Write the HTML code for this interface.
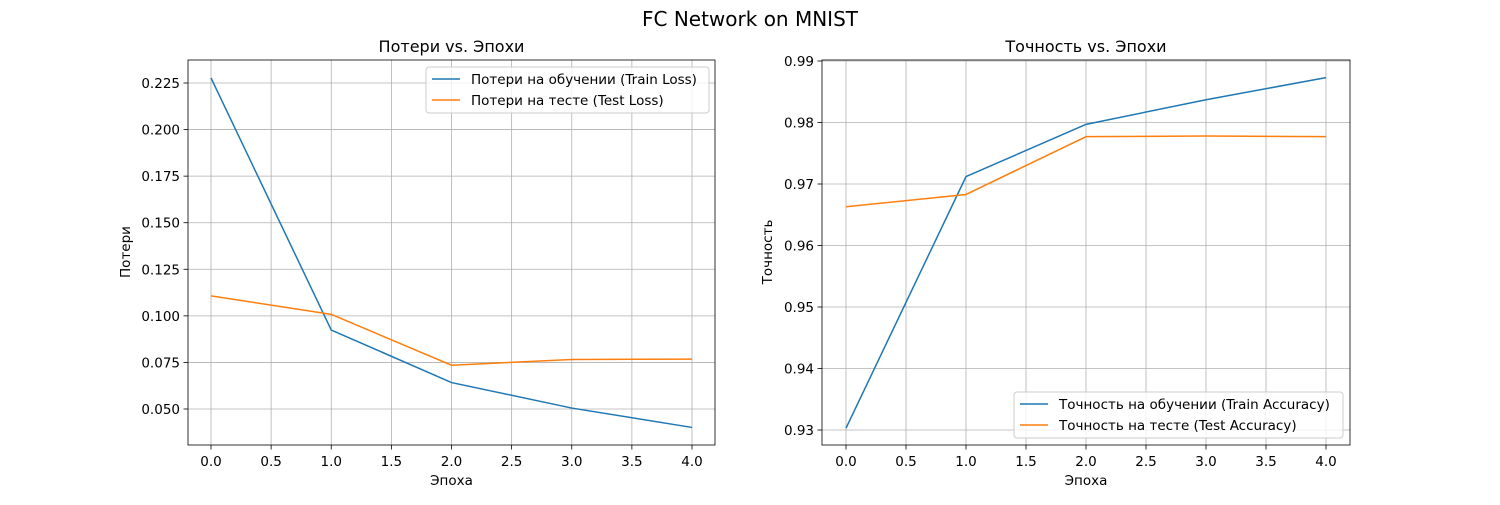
<!DOCTYPE html>
<html><head><meta charset="utf-8"><style>
body{margin:0;background:#fff;font-family:"Liberation Sans","DejaVu Sans",sans-serif}
svg text{font-family:"DejaVu Sans","Liberation Sans",sans-serif;fill:#000}
</style></head><body>
<svg id="c" width="1500" height="500" xmlns="http://www.w3.org/2000/svg"></svg>
<script>
const epochs=[0,1,2,3,4];
const trainLoss=[0.2277,0.0924,0.0642,0.0505,0.0401];
const testLoss=[0.1107,0.1008,0.0735,0.0766,0.0768];
const trainAcc=[0.9303,0.9712,0.9797,0.9837,0.9873];
const testAcc=[0.9663,0.9683,0.9777,0.9778,0.9777];
const xTicks=[0,0.5,1,1.5,2,2.5,3,3.5,4];
const lossTicks=[0.05,0.075,0.1,0.125,0.15,0.175,0.2,0.225];
const accTicks=[0.93,0.94,0.95,0.96,0.97,0.98,0.99];
const NS="http://www.w3.org/2000/svg";
const svg=document.getElementById('c');
function el(t,a,p){const e=document.createElementNS(NS,t);for(const k in a)e.setAttribute(k,a[k]);(p||svg).appendChild(e);return e;}
function txt(s,a,p){const e=el('text',a,p);e.textContent=s;return e;}
const title=txt('FC Network on MNIST',{x:750,y:26,'font-size':20,'text-anchor':'middle'});


function panel(o){
 const g=el('g',{});
 
 
 const X=v=>o.x0+(v-0)*(o.x4-o.x0)/4;
 const Y=v=>o.yA+(v-o.vA)*(o.yB-o.yA)/(o.vB-o.vA);
 xTicks.forEach(t=>{
  el('line',{x1:X(t),x2:X(t),y1:60,y2:445,stroke:'#b0b0b0','stroke-width':0.8},g);
  el('line',{x1:X(t),x2:X(t),y1:445,y2:449.5,stroke:'#000','stroke-width':0.8},g);
  const l=txt(t.toFixed(1),{x:X(t),y:466,'font-size':13.5,'text-anchor':'middle'},g);
  
  
 });
 o.ticks.forEach(t=>{
  el('line',{x1:o.L,x2:o.R,y1:Y(t),y2:Y(t),stroke:'#b0b0b0','stroke-width':0.8},g);
  el('line',{x1:o.L-4.5,x2:o.L,y1:Y(t),y2:Y(t),stroke:'#000','stroke-width':0.8},g);
  const l=txt(t.toFixed(o.dec),{x:o.L-8,y:Y(t)+5,'font-size':13.5,'text-anchor':'end'},g);
  
  
 });
 const fr=el('rect',{x:o.L,y:60,width:o.R-o.L,height:385,fill:'none',stroke:'#000','stroke-width':0.8},g);
 
 
 o.series.forEach((s,i)=>{
  const p=el('polyline',{points:epochs.map((e,j)=>X(e)+','+Y(s[j])).join(' '),fill:'none',stroke:i?'#ff7f0e':'#1f77b4','stroke-width':1.5},g);
  
  
 });
 const t=txt(o.title,{x:(o.L+o.R)/2,y:52,'font-size':16,'text-anchor':'middle'},g);
 
 
 const xl=txt('Эпоха',{x:(o.L+o.R)/2,y:485,'font-size':13.5,'text-anchor':'middle'},g);
 
 
 const yl=txt(o.ylabel,{x:0,y:0,'font-size':13.5,'text-anchor':'middle',transform:`translate(${o.ylx},252) rotate(-90)`},g);
 
 
 const lg=el('g',{},g);
 
 
 el('rect',{x:o.lx,y:o.ly,width:o.lw,height:46,rx:3,fill:'#fff','fill-opacity':0.8,stroke:'#ccc'},lg);
 o.labels.forEach((s,i)=>{
  el('line',{x1:o.lx+6,x2:o.lx+34,y1:o.ly+12+i*21,y2:o.ly+12+i*21,stroke:i?'#ff7f0e':'#1f77b4','stroke-width':1.5},lg);
  const e=txt(s,{x:o.lx+45,y:o.ly+17+i*21,'font-size':13.5},lg);
  
  
 });
}
panel({name:'loss-panel',L:188,R:715,x0:211,x4:692,yA:409,vA:0.05,yB:83,vB:0.225,ticks:lossTicks,dec:3,
 series:[trainLoss,testLoss],title:'Потери vs. Эпохи',ylabel:'Потери',ylx:130,lx:426,ly:67,lw:283,
 labels:['Потери на обучении (Train Loss)','Потери на тесте (Test Loss)']});
panel({name:'accuracy-panel',L:822,R:1350,x0:846,x4:1326,yA:430,vA:0.93,yB:61,vB:0.99,ticks:accTicks,dec:2,
 series:[trainAcc,testAcc],title:'Точность vs. Эпохи',ylabel:'Точность',ylx:772,lx:1014,ly:392,lw:329,
 labels:['Точность на обучении (Train Accuracy)','Точность на тесте (Test Accuracy)']});
</script>
</body></html>
